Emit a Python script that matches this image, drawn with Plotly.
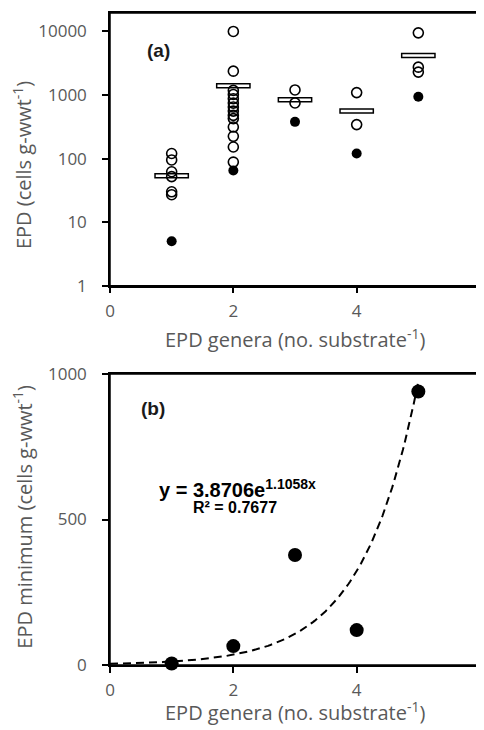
import numpy as np
import plotly.graph_objects as go

# ---------------- data ----------------
# Panel (a): EPD per substrate, grouped by number of EPD genera
genera = [1, 2, 3, 4, 5]
open_x = [1, 1, 1, 1, 1, 1,
          2, 2, 2, 2, 2, 2, 2, 2, 2, 2, 2, 2, 2, 2,
          3, 3,
          4, 4,
          5, 5, 5]
open_y = [120, 95, 62, 52, 30, 27,
          10000, 2370, 1180, 1020, 875, 746, 646, 558, 478, 425, 313, 224, 152, 88,
          1200, 750,
          1090, 342,
          9500, 2740, 2290]
min_y = [5, 65, 378, 120, 940]          # filled symbols = minimum per group
mean_y = [50, 1300, 780, 520, 3900]     # horizontal bars = group mean

# Panel (b): exponential trendline coefficients (printed on chart)
trend_a = 3.8706
trend_b = 1.1058
trend_r2 = 0.7677

x_ticks = [0, 2, 4, 6]
a_y_ticks = [1, 10, 100, 1000, 10000]
b_y_ticks = [0, 500, 1000]

x_title = "EPD genera (no. substrate<sup>-1</sup>)"
a_y_title = "EPD (cells g-wwt<sup>-1</sup>)"
b_y_title = "EPD minimum (cells g-wwt<sup>-1</sup>)"

# ---------------- styling ----------------
GRAY = "#595959"
TICK_FONT = dict(family="Open Sans", size=17, color=GRAY)
TITLE_FONT = dict(family="Open Sans", size=20, color=GRAY)
LABEL_FONT = dict(family="Liberation Sans", size=19, color="#1a1a1a")

fig = go.Figure()

# (a) open circles
fig.add_trace(go.Scatter(
    x=open_x, y=open_y, mode="markers", xaxis="x", yaxis="y",
    marker=dict(symbol="circle-open", size=10, color="black", line=dict(width=1.6)),
    cliponaxis=False, showlegend=False))
# (a) minima
fig.add_trace(go.Scatter(
    x=genera, y=min_y, mode="markers", xaxis="x", yaxis="y",
    marker=dict(symbol="circle", size=10, color="black"),
    cliponaxis=False, showlegend=False))

# frames around both plot areas
shapes = [
    dict(type="rect", xref="x domain", yref="y domain", x0=0, x1=1, y0=0, y1=1,
         line=dict(color="black", width=1.5), layer="above"),
    dict(type="rect", xref="x2 domain", yref="y2 domain", x0=0, x1=1, y0=0, y1=1,
         line=dict(color="black", width=1.5), layer="above"),
]
# (a) mean bars (data-anchored, pixel height)
for g, m in zip(genera, mean_y):
    shapes.append(dict(
        type="rect", xref="x", yref="y", layer="below",
        x0=g - 0.27, x1=g + 0.27,
        ysizemode="pixel", yanchor=m, y0=-4, y1=4,
        line=dict(color="black", width=1.5), fillcolor="white"))

# (b) trendline from the printed fit
xt = np.linspace(0, 5, 200)
yt = trend_a * np.exp(trend_b * xt)
fig.add_trace(go.Scatter(
    x=xt, y=yt, mode="lines", xaxis="x2", yaxis="y2",
    line=dict(color="black", width=2, dash="8px,5px"),
    showlegend=False))
# (b) minima
fig.add_trace(go.Scatter(
    x=genera, y=min_y, mode="markers", xaxis="x2", yaxis="y2",
    marker=dict(symbol="circle", size=14, color="black"),
    cliponaxis=False, showlegend=False))

axis_common = dict(
    showgrid=False, zeroline=False, showline=True, linecolor="black", linewidth=1.5,
    mirror=True, ticks="outside", ticklen=6, tickwidth=1.5, tickcolor="black",
    tickfont=TICK_FONT, automargin=False)

fig.update_layout(
    width=476, height=722,
    margin=dict(l=102, r=4, t=5, b=65),
    paper_bgcolor="white", plot_bgcolor="white",
    xaxis=dict(axis_common, domain=[0, 1], anchor="y", range=[0, 6],
               tickvals=x_ticks, ticklabelstandoff=3),
    yaxis=dict(axis_common, domain=[0.5818, 1], anchor="x", type="log",
               range=[0, 4.29], tickvals=a_y_ticks,
               ticktext=[str(v) for v in a_y_ticks], ticklabelstandoff=12),
    xaxis2=dict(axis_common, domain=[0, 1], anchor="y2", range=[0, 6],
                tickvals=x_ticks, ticklabelstandoff=3),
    yaxis2=dict(axis_common, domain=[0, 0.4463], anchor="x2", range=[0, 1000],
                tickvals=b_y_ticks, ticklabelstandoff=12),
    shapes=shapes,
    annotations=[
        # axis titles
        dict(text=x_title, xref="x domain", yref="y domain", x=0.5, y=-0.192,
             xanchor="center", yanchor="middle", showarrow=False, font=TITLE_FONT),
        dict(text=x_title, xref="x2 domain", yref="y2 domain", x=0.5, y=-0.1605,
             xanchor="center", yanchor="middle", showarrow=False, font=TITLE_FONT),
        dict(text=a_y_title, xref="x domain", yref="y domain", x=-0.235, y=0.4426,
             xanchor="center", yanchor="middle", textangle=-90, showarrow=False,
             font=TITLE_FONT),
        dict(text=b_y_title, xref="x2 domain", yref="y2 domain", x=-0.235, y=0.510,
             xanchor="center", yanchor="middle", textangle=-90, showarrow=False,
             font=TITLE_FONT),
        # panel labels
        dict(text="<b>(a)</b>", xref="x domain", yref="y domain", x=0.131, y=0.863,
             xanchor="center", yanchor="middle", showarrow=False, font=LABEL_FONT),
        dict(text="<b>(b)</b>", xref="x2 domain", yref="y2 domain", x=0.115, y=0.883,
             xanchor="center", yanchor="middle", showarrow=False, font=LABEL_FONT),
        # trendline equation
        dict(text=f"<b>y = {trend_a:.4f}e<sup>{trend_b:.4f}x</sup></b>",
             xref="x2 domain", yref="y2 domain", x=0.126, y=0.608,
             xanchor="left", yanchor="middle",
             showarrow=False, font=dict(family="Liberation Sans", size=20, color="black")),
        dict(text=f"<b>R² = {trend_r2:.4f}</b>",
             xref="x2 domain", yref="y2 domain", x=0.338, y=0.540,
             xanchor="center", yanchor="middle",
             showarrow=False, font=dict(family="Liberation Sans", size=16, color="black")),
    ],
)

fig.write_html("out.html")
